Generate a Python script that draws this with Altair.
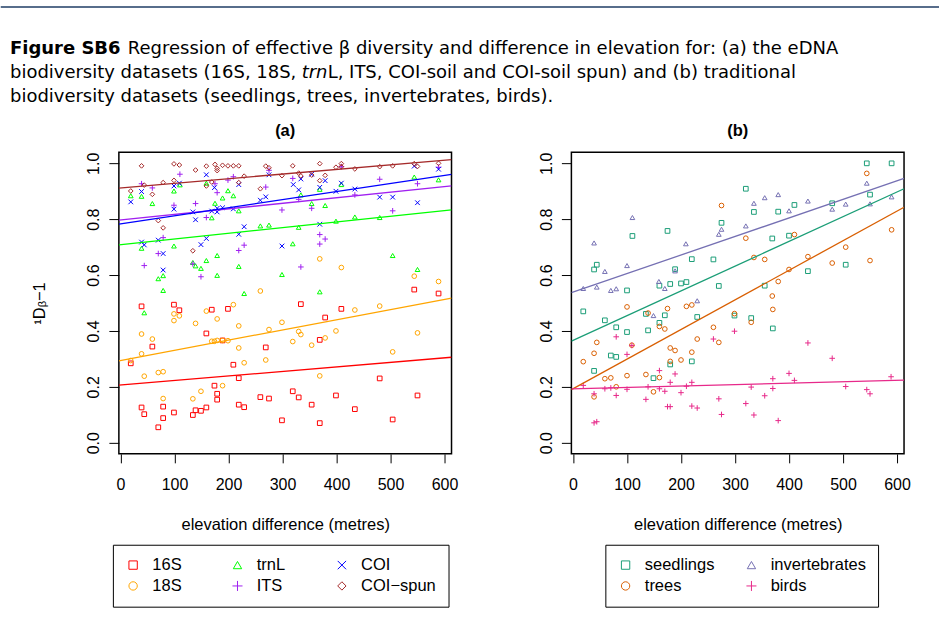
import altair as alt
import pandas as pd

FONT = "Liberation Sans"
CAP_FONT = "DejaVu Sans"

# ---------------- panel (a): eDNA datasets ----------------
a_16S_x = [39,99,109,169,199,159,59,189,269,19,209,219,174,179,179,259,275,39,44,79,79,99,70,134,139,149,159,219,229,544,589,334,409,379,369,480,319,330,399,550,354,434,299,369,504]
a_16S_y = [0.488,0.494,0.474,0.476,0.479,0.391,0.344,0.366,0.341,0.284,0.279,0.231,0.204,0.175,0.154,0.163,0.158,0.126,0.102,0.129,0.088,0.108,0.055,0.099,0.116,0.114,0.126,0.136,0.127,0.548,0.534,0.496,0.479,0.448,0.368,0.230,0.184,0.162,0.169,0.169,0.136,0.120,0.080,0.070,0.083]
a_18S_x = [259,209,99,109,99,159,179,139,219,275,39,59,169,174,179,189,199,219,39,19,229,269,70,79,44,189,149,79,134,369,409,544,589,299,434,480,330,334,319,379,399,354,550,504,369]
a_18S_y = [0.543,0.494,0.461,0.454,0.437,0.471,0.443,0.427,0.418,0.405,0.389,0.371,0.363,0.363,0.366,0.366,0.365,0.339,0.318,0.294,0.286,0.296,0.251,0.254,0.238,0.204,0.184,0.158,0.157,0.658,0.627,0.596,0.577,0.431,0.475,0.489,0.398,0.387,0.362,0.375,0.400,0.349,0.393,0.325,0.239]
a_trnL_x = [334,354,379,369,409,544,589,330,399,434,480,319,299,369,504,550,19,39,59,99,110,159,199,189,209,175,219,169,259,275,39,99,179,159,134,139,149,219,79,70,179,79,229,44]
a_trnL_y = [0.887,0.856,0.849,0.907,0.924,0.951,0.941,0.771,0.793,0.808,0.806,0.712,0.602,0.540,0.670,0.620,0.884,0.882,0.856,0.901,0.923,0.929,0.902,0.876,0.884,0.857,0.830,0.805,0.776,0.779,0.696,0.704,0.670,0.652,0.645,0.633,0.624,0.631,0.598,0.587,0.599,0.545,0.534,0.465]
a_ITS_x = [319,330,299,354,434,480,504,550,589,369,379,369,334,409,110,39,59,175,199,209,275,269,179,99,139,159,79,229,219,70,44,134,149]
a_ITS_y = [0.946,0.871,0.833,0.839,0.887,0.943,0.830,0.927,0.986,0.745,0.729,0.711,0.629,0.988,0.961,0.927,0.912,0.927,0.940,0.952,0.975,0.915,0.895,0.850,0.856,0.806,0.734,0.707,0.688,0.677,0.634,0.640,0.594]
a_COI_x = [320,334,330,354,379,369,409,399,434,480,504,550,544,589,369,299,159,99,109,39,19,174,219,275,99,134,139,169,179,179,189,209,259,269,229,219,39,44,70,159,149,79,79]
a_COI_y = [0.924,0.944,0.905,0.961,0.938,0.914,0.929,0.900,0.908,0.879,0.879,0.859,0.990,0.979,0.782,0.704,0.959,0.919,0.929,0.899,0.862,0.913,0.924,0.959,0.836,0.826,0.798,0.829,0.839,0.826,0.841,0.837,0.868,0.880,0.773,0.746,0.718,0.708,0.725,0.731,0.709,0.677,0.618]
a_COIspun_x = [39,99,109,139,159,175,179,179,189,199,209,219,269,275,44,79,99,159,169,219,229,19,59,259,70,79,134,299,319,330,334,354,369,369,379,399,409,409,434,480,504,544,550,589]
a_COIspun_y = [0.991,0.998,0.994,0.976,0.990,0.996,0.982,0.974,0.993,0.991,0.991,0.991,0.990,0.984,0.922,0.931,0.939,0.919,0.933,0.931,0.954,0.901,0.889,0.909,0.795,0.769,0.687,0.956,0.991,0.965,0.955,0.958,0.999,0.938,0.957,0.986,0.999,0.988,0.980,0.988,0.991,0.999,0.989,1.000]

# fitted regression lines (intercept, slope)
a_names = ["16S", "18S", "trnL", "ITS", "COI", "COI−spun"]
a_intercepts = [0.2065, 0.294, 0.709, 0.797, 0.783, 0.912]
a_slopes = [1.62e-4, 3.65e-4, 2.03e-4, 2.0e-4, 2.9e-4, 1.65e-4]

# ---------------- panel (b): traditional datasets ----------------
b_seed_x = [110,175,275,44,39,189,220,260,200,210,180,160,270,100,544,590,320,550,335,380,410,480,369,400,505,435,355,19,59,135,170,80,100,139,160,230,299,70,80,180,220,39,149,330,370]
b_seed_y = [0.740,0.758,0.787,0.637,0.620,0.621,0.657,0.656,0.570,0.575,0.568,0.562,0.561,0.545,1.000,1.000,0.909,0.888,0.826,0.827,0.851,0.857,0.731,0.741,0.637,0.614,0.562,0.470,0.438,0.461,0.456,0.413,0.396,0.402,0.429,0.450,0.455,0.312,0.307,0.280,0.291,0.257,0.231,0.446,0.409]
b_trees_x = [275,544,590,320,410,505,335,355,435,480,550,400,380,369,100,139,175,210,220,160,170,260,299,230,270,44,39,109,180,189,220,200,180,19,59,70,100,135,160,80,149,39,370,330]
b_trees_y = [0.849,0.964,0.762,0.732,0.745,0.700,0.663,0.656,0.666,0.643,0.652,0.620,0.577,0.525,0.486,0.464,0.480,0.488,0.493,0.416,0.407,0.413,0.462,0.371,0.359,0.359,0.320,0.349,0.339,0.330,0.324,0.296,0.291,0.290,0.229,0.232,0.240,0.244,0.233,0.200,0.182,0.164,0.477,0.431]
b_inv_x = [110,39,209,275,270,59,100,189,159,170,19,44,70,80,544,590,550,335,355,380,435,400,480,505,320,230,149]
b_inv_y = [0.806,0.715,0.712,0.764,0.746,0.613,0.634,0.615,0.577,0.552,0.552,0.557,0.545,0.551,0.929,0.880,0.855,0.857,0.877,0.888,0.865,0.830,0.836,0.854,0.776,0.508,0.455]
b_birds_x = [80,109,100,260,299,160,189,180,220,19,59,70,139,210,160,170,100,39,80,200,135,270,175,180,220,230,275,39,44,435,480,400,370,410,589,330,370,505,544,550,355,320,335,380]
b_birds_y = [0.379,0.348,0.316,0.371,0.399,0.258,0.246,0.216,0.216,0.205,0.193,0.196,0.200,0.202,0.193,0.184,0.191,0.175,0.169,0.179,0.155,0.157,0.129,0.129,0.131,0.124,0.101,0.071,0.075,0.357,0.302,0.248,0.229,0.223,0.236,0.199,0.194,0.201,0.190,0.175,0.168,0.140,0.099,0.079]

b_names = ["seedlings", "trees", "invertebrates", "birds"]
b_intercepts = [0.366, 0.193, 0.539, 0.193]
b_slopes = [8.86e-4, 1.06e-3, 6.64e-4, 5.0e-5]

# axes
X_DOMAIN = [-3, 613]
Y_DOMAIN = [-0.04, 1.04]
X_TICKS = [0, 100, 200, 300, 400, 500, 600]
Y_TICKS = [0.0, 0.2, 0.4, 0.6, 0.8, 1.0]

X_PATH = "M-1,-1L1,1M-1,1L1,-1"
PLUS_PATH = "M-1.2,0L1.2,0M0,-1.2L0,1.2"

# legend order (filled column by column), colours and symbols
a_order = ["16S", "18S", "trnL", "ITS", "COI", "COI−spun"]
a_colors = ["#FF0000", "#FFA500", "#00FF00", "#A020F0", "#0000FF", "#A52A2A"]
a_shapes = ["square", "circle", "triangle-up", PLUS_PATH, X_PATH, "diamond"]

b_order = ["seedlings", "trees", "invertebrates", "birds"]
b_colors = ["#1B9E77", "#D95F02", "#7570B3", "#E7298A"]
b_shapes = ["square", "circle", "triangle-up", PLUS_PATH]


def points_df(series):
    rows = []
    for name, xs, ys in series:
        for xv, yv in zip(xs, ys):
            rows.append({"x": xv, "y": yv, "series": name})
    return pd.DataFrame(rows)


def lines_df(names, intercepts, slopes):
    rows = []
    for n, b0, b1 in zip(names, intercepts, slopes):
        for xv in X_DOMAIN:
            rows.append({"x": xv, "y": b0 + b1 * xv, "series": n})
    return pd.DataFrame(rows)


a_pts = points_df([("16S", a_16S_x, a_16S_y), ("18S", a_18S_x, a_18S_y),
                   ("trnL", a_trnL_x, a_trnL_y), ("ITS", a_ITS_x, a_ITS_y),
                   ("COI", a_COI_x, a_COI_y), ("COI−spun", a_COIspun_x, a_COIspun_y)])
b_pts = points_df([("seedlings", b_seed_x, b_seed_y), ("trees", b_trees_x, b_trees_y),
                   ("invertebrates", b_inv_x, b_inv_y), ("birds", b_birds_x, b_birds_y)])
a_lines = lines_df(a_names, a_intercepts, a_slopes)
b_lines = lines_df(b_names, b_intercepts, b_slopes)

PW, PH = 333, 302


def panel(pts, lns, order, colors, shapes, title, ytitle, legend_x, cols, col_pad):
    xs = alt.Scale(domain=X_DOMAIN, nice=False, zero=False)
    ys = alt.Scale(domain=Y_DOMAIN, nice=False, zero=False)
    xax = alt.Axis(values=X_TICKS, title="elevation difference (metres)", tickSize=9,
                   labelPadding=14, titleY=75.5, titleBaseline="alphabetic")
    if ytitle:
        yax = alt.Axis(values=Y_TICKS, format=".1f", tickSize=10, labelAngle=270,
                       labelAlign="center", labelBaseline="alphabetic", labelPadding=10,
                       title=ytitle, titleX=-79, titleY=PH / 2, titleAngle=270,
                       titleAlign="center", titleBaseline="middle")
    else:
        yax = alt.Axis(values=Y_TICKS, format=".1f", tickSize=10, labelAngle=270,
                       labelAlign="center", labelBaseline="alphabetic", labelPadding=10,
                       title=None)
    leg = alt.Legend(title=None, orient="none", legendX=legend_x, legendY=393,
                     columns=cols, direction="vertical", gridAlign="all",
                     columnPadding=col_pad, rowPadding=4,
                     padding=12, labelOffset=11, labelFontSize=16.5, labelFont=FONT,
                     labelColor="black", symbolSize=70, symbolStrokeWidth=1,
                     strokeColor="black", fillColor="white")
    p = alt.Chart(pts).mark_point(filled=False, size=22, strokeWidth=1, opacity=1).encode(
        x=alt.X("x:Q", scale=xs, axis=xax),
        y=alt.Y("y:Q", scale=ys, axis=yax),
        color=alt.Color("series:N", scale=alt.Scale(domain=order, range=colors), legend=leg),
        shape=alt.Shape("series:N", scale=alt.Scale(domain=order, range=shapes), legend=leg),
    )
    l = alt.Chart(lns).mark_line(strokeWidth=1.3, clip=True).encode(
        x=alt.X("x:Q", scale=xs, axis=xax),
        y=alt.Y("y:Q", scale=ys, axis=yax),
        stroke=alt.Stroke("series:N", scale=alt.Scale(domain=order, range=colors), legend=None),
        detail="series:N",
    )
    return alt.layer(p, l).properties(
        width=PW, height=PH,
        title=alt.TitleParams(title, font=FONT, fontSize=16.5, fontWeight="bold",
                              anchor="middle", baseline="alphabetic", offset=0, color="black"),
    )


pa = panel(a_pts, a_lines, a_order, a_colors, a_shapes, "(a)", "¹Dᵦ−1", -6, 3, 1.5)
pb = panel(b_pts, b_lines, b_order, b_colors, b_shapes, "(b)", None, 34, 2, 3)

panels = alt.hconcat(pa, pb, spacing=120, bounds="flush").resolve_scale(
    color="independent", shape="independent", stroke="independent")

# ---------------- caption ----------------
ORIGIN_X = 119  # caption view origin in page pixels
CAP_SIZE = 18
cap_segments = [
    ("Figure SB6", 10, 54, "bold", "normal"),
    ("Regression of effective β diversity and difference in elevation for: (a) the eDNA", 128, 54, "normal", "normal"),
    ("biodiversity datasets (16S, 18S,", 10, 78, "normal", "normal"),
    ("trn", 302, 78, "normal", "italic"),
    ("L, ITS, COI-soil and COI-soil spun) and (b) traditional", 328, 78, "normal", "normal"),
    ("biodiversity datasets (seedlings, trees, invertebrates, birds).", 10, 102, "normal", "normal"),
]
one = pd.DataFrame({"k": [0]})
cap_layers = [
    alt.Chart(one).mark_rule(color="#1F3C64", strokeWidth=1.5).encode(
        x=alt.value(-ORIGIN_X + 0.75), x2=alt.value(940 - ORIGIN_X), y=alt.value(6.7))
]
for txt, px, py, wt, st in cap_segments:
    cap_layers.append(
        alt.Chart(one).mark_text(text=txt, font=CAP_FONT, fontSize=CAP_SIZE, fontWeight=wt,
                                 fontStyle=st, align="left", baseline="alphabetic",
                                 color="black").encode(
            x=alt.value(px - ORIGIN_X), y=alt.value(py)))
caption = alt.layer(*cap_layers).properties(width=700, height=100,
                                            view=alt.ViewBackground(strokeOpacity=0))

chart = alt.vconcat(caption, panels, spacing=52, bounds="flush").properties(
    padding={"left": 0, "top": 0, "right": 0, "bottom": 0}, background="white"
).configure_view(stroke="black", strokeWidth=1.5).configure_axis(
    labelFont=FONT, titleFont=FONT, labelFontSize=16, titleFontSize=16.5,
    titleFontWeight="normal", labelColor="black", titleColor="black",
    tickColor="black", tickWidth=1, grid=False, domain=False)

chart.save("out.html", embed_options={"renderer": "svg", "actions": False})
